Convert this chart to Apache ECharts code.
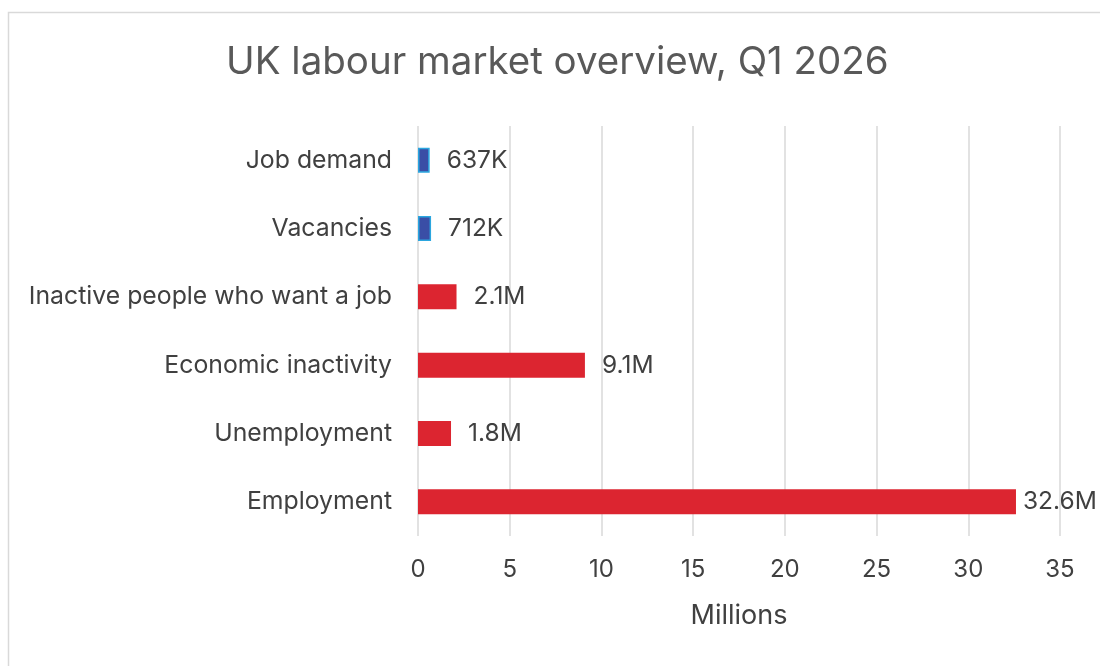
<!DOCTYPE html>
<html>
<head>
<meta charset="utf-8">
<script src="https://cdn.jsdelivr.net/npm/echarts@6/dist/echarts.min.js"></script>
<style>
  html, body { margin: 0; padding: 0; background: #ffffff; }
  #chart { width: 1100px; height: 666px; }
</style>
</head>
<body>
<div id="chart"></div>
<script>
// Labour market measures, listed top to bottom
const categories = [
  'Job demand',
  'Vacancies',
  'Inactive people who want a job',
  'Economic inactivity',
  'Unemployment',
  'Employment'
];
// Values in millions
const values = [0.637, 0.712, 2.1, 9.1, 1.8, 32.6];
// Printed labels for each bar
const valueLabels = ['637K', '712K', '2.1M', '9.1M', '1.8M', '32.6M'];
// Demand-side measures are shown in blue, supply-side in red
const isDemand = [true, true, false, false, false, false];
const xTicks = [0, 5, 10, 15, 20, 25, 30, 35];

const FONT = 'Inter, "Open Sans", "DejaVu Sans", sans-serif';
const TEXT = '#404040';

const chart = echarts.init(document.getElementById('chart'), null, { renderer: 'canvas' });

const seriesData = values.map((v, i) => ({
  value: v,
  itemStyle: isDemand[i]
    ? { color: '#3A4EA6', borderColor: '#2BA6DF', borderWidth: 1.5 }
    : { color: '#DC2530' },
  // the longest bar sits close to the plot edge, so its label hugs it
  label: { distance: v > 30 ? 7 : 17 }
}));

chart.setOption({
  backgroundColor: '#ffffff',
  animation: false,
  title: {
    text: 'UK labour market overview, Q1 2026',
    left: 221,
    top: 38,
    textStyle: { fontFamily: FONT, fontSize: 38.5, fontWeight: 'normal', color: '#595959' }
  },
  graphic: [{
    type: 'rect',
    shape: { x: 8.5, y: 12.5, width: 1200, height: 800 },
    style: { fill: 'none', stroke: '#d9d9d9', lineWidth: 1.5 },
    silent: true,
    z: -1
  }],
  grid: { left: 418, right: 40, top: 126, bottom: 130, containLabel: false },
  xAxis: {
    type: 'value',
    min: xTicks[0],
    max: xTicks[xTicks.length - 1],
    interval: xTicks[1] - xTicks[0],
    name: 'Millions',
    nameLocation: 'middle',
    nameGap: 66,
    nameTextStyle: { fontFamily: FONT, fontSize: 27, color: TEXT },
    axisLine: { show: false },
    axisTick: { show: false },
    axisLabel: { fontFamily: FONT, fontSize: 24, color: TEXT, margin: 22 },
    splitLine: { show: true, lineStyle: { color: '#d9d9d9', width: 1.5 } }
  },
  yAxis: {
    type: 'category',
    data: categories,
    inverse: true,
    axisLine: { show: false },
    axisTick: { show: false },
    axisLabel: { fontFamily: FONT, fontSize: 24.8, color: TEXT, margin: 26 }
  },
  series: [{
    type: 'bar',
    data: seriesData,
    barWidth: 25,
    label: {
      show: true,
      position: 'right',
      fontFamily: FONT,
      fontSize: 24.5,
      color: TEXT,
      formatter: p => valueLabels[p.dataIndex]
    }
  }]
});
</script>
</body>
</html>
